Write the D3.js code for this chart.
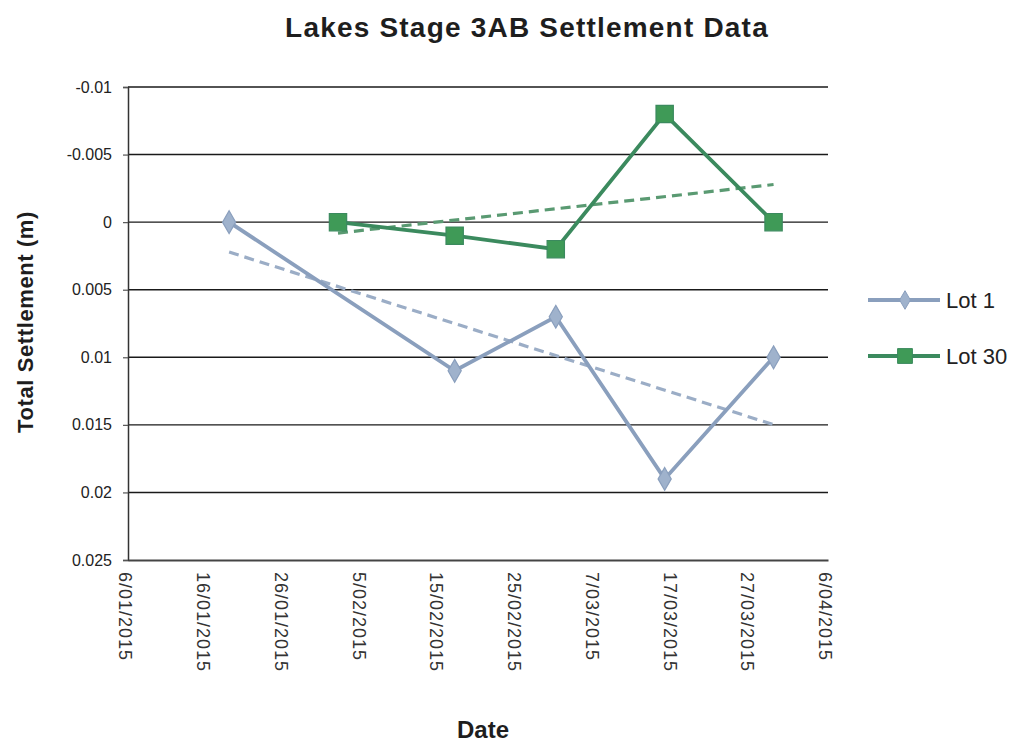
<!DOCTYPE html>
<html><head><meta charset="utf-8">
<script src="https://cdn.jsdelivr.net/npm/d3@7"></script>
<style>body{margin:0;background:#fff;} svg{display:block;font-family:"Liberation Sans",Arial,sans-serif;}</style>
</head><body>
<svg id="chart" width="1023" height="742"></svg>
<script>
const lot1Dates = ["2015-01-19","2015-02-17","2015-03-02","2015-03-16","2015-03-30"];
const lot1Values = [0, 0.011, 0.007, 0.019, 0.010];
const lot30Dates = ["2015-02-02","2015-02-17","2015-03-02","2015-03-16","2015-03-30"];
const lot30Values = [0, 0.001, 0.002, -0.008, 0];
const xTickDates = ["2015-01-06","2015-01-16","2015-01-26","2015-02-05","2015-02-15","2015-02-25","2015-03-07","2015-03-17","2015-03-27","2015-04-06"];
const xTickLabels = ["6/01/2015","16/01/2015","26/01/2015","5/02/2015","15/02/2015","25/02/2015","7/03/2015","17/03/2015","27/03/2015","6/04/2015"];
const yTicks = [-0.01,-0.005,0,0.005,0.01,0.015,0.02,0.025];
const yTickLabels = ["-0.01","-0.005","0","0.005","0.01","0.015","0.02","0.025"];
const seriesNames = ["Lot 1","Lot 30"];

const parse = d3.timeParse("%Y-%m-%d");
const svg = d3.select("#chart");
const L = 128, R = 828, T = 87, B = 560;
const x = d3.scaleTime().domain([parse(xTickDates[0]), parse(xTickDates[xTickDates.length-1])]).range([L, R]);
const y = d3.scaleLinear().domain([-0.01, 0.025]).range([T, B]);

// title
svg.append("text").attr("x", 527).attr("y", 37).attr("text-anchor","middle")
  .attr("font-size", 28).attr("font-weight","bold").attr("letter-spacing", 1.2)
  .attr("fill","#1e1e1e").text("Lakes Stage 3AB Settlement Data");

// gridlines
svg.append("g").selectAll("line").data(yTicks.slice(0, -1)).join("line")
  .attr("x1", L).attr("x2", R).attr("y1", d => y(d)).attr("y2", d => y(d))
  .attr("stroke", "#1a1a1a").attr("stroke-width", 1.4);

// y axis
const yAxis = d3.axisLeft(y).tickValues(yTicks).tickSize(5).tickPadding(11)
  .tickFormat((d,i) => yTickLabels[i]);
const gy = svg.append("g").attr("transform", `translate(${L},0)`).call(yAxis);
gy.select(".domain").attr("stroke","#333").attr("stroke-width",1.5);
gy.selectAll(".tick line").attr("stroke","#555").attr("stroke-width",1.2);
gy.selectAll("text").attr("font-size", 16).attr("fill","#222").attr("font-family","Liberation Sans, Arial, sans-serif");

// x axis
const xAxis = d3.axisBottom(x).tickValues(xTickDates.map(parse)).tickSize(0)
  .tickFormat((d,i) => xTickLabels[i]);
const gx = svg.append("g").attr("transform", `translate(0,${B})`).call(xAxis);
gx.select(".domain").attr("stroke","#444").attr("stroke-width",1.8);
gx.selectAll("text").attr("font-size", 18).attr("letter-spacing", 1).attr("fill","#333")
  .attr("font-family","Liberation Sans, Arial, sans-serif")
  .attr("text-anchor","start").attr("dy","0.35em")
  .attr("transform","translate(-3,12) rotate(90)").attr("x", 0).attr("y", 0);

// axis titles
svg.append("text").attr("transform","translate(33,322) rotate(-90)").attr("text-anchor","middle")
  .attr("font-size",22).attr("font-weight","bold").attr("letter-spacing",0.6).attr("fill","#1e1e1e").text("Total Settlement (m)");
svg.append("text").attr("x",483).attr("y",738).attr("text-anchor","middle")
  .attr("font-size",24).attr("font-weight","bold").attr("fill","#1e1e1e").text("Date");

function regression(dates, vals) {
  const xs = dates.map(d => +parse(d)), n = xs.length;
  const mx = d3.mean(xs), my = d3.mean(vals);
  let sxy = 0, sxx = 0;
  xs.forEach((xv,i) => { sxy += (xv-mx)*(vals[i]-my); sxx += (xv-mx)*(xv-mx); });
  const b = sxy/sxx, a = my - b*mx;
  return [xs[0], xs[n-1]].map(xv => [xv, a + b*xv]);
}

const series = [
  {name: seriesNames[0], dates: lot1Dates, vals: lot1Values, color:"#8a9fbd", trend:"#9badc6", marker:"diamond", fill:"#9fb2cc"},
  {name: seriesNames[1], dates: lot30Dates, vals: lot30Values, color:"#3b8a5e", trend:"#5a9a72", marker:"square", fill:"#3f9a57"}
];

const line = d3.line().x(d => x(d[0])).y(d => y(d[1]));
series.forEach(s => {
  const tr = regression(s.dates, s.vals);
  svg.append("path").attr("d", line(tr))
    .attr("fill","none").attr("stroke", s.trend).attr("stroke-width",3.2).attr("stroke-dasharray","10,6");
});
series.forEach(s => {
  const pts = s.dates.map((d,i) => [parse(d), s.vals[i]]);
  svg.append("path").attr("d", line(pts)).attr("fill","none").attr("stroke", s.color).attr("stroke-width",3.8);
  const sym = s.marker === "diamond" ? d3.symbol(d3.symbolDiamond, 150) : d3.symbol(d3.symbolSquare, 300);
  svg.append("g").selectAll("path").data(pts).join("path")
    .attr("transform", d => `translate(${x(d[0])},${y(d[1])})`)
    .attr("d", sym).attr("fill", s.fill).attr("stroke", s.color).attr("stroke-width",1.2);
});

// legend
const lg = svg.append("g");
series.forEach((s,i) => {
  const ly = 300 + i*56;
  lg.append("line").attr("x1",868).attr("x2",940).attr("y1",ly).attr("y2",ly).attr("stroke",s.color).attr("stroke-width",3.8);
  const sym = s.marker === "diamond" ? d3.symbol(d3.symbolDiamond, 100) : d3.symbol(d3.symbolSquare, 220);
  lg.append("path").attr("transform",`translate(905,${ly})`).attr("d",sym).attr("fill",s.fill).attr("stroke",s.color);
  lg.append("text").attr("x",946).attr("y",ly).attr("dy","0.35em").attr("font-size",22).attr("fill","#222").text(s.name);
});
</script>
</body></html>
